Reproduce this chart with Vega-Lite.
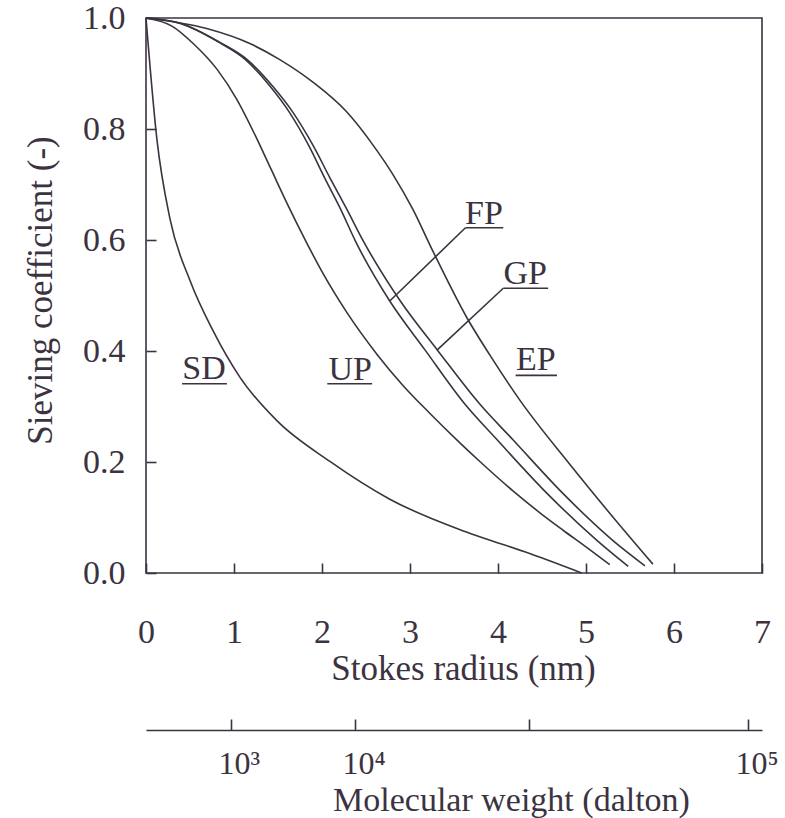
{
  "$schema": "https://vega.github.io/schema/vega-lite/v6.json",
  "width": 616,
  "height": 555,
  "autosize": {"type": "none"},
  "padding": {"left": 146, "top": 18, "right": 23, "bottom": 245},
  "background": "white",
  "config": {
    "font": "Liberation Serif",
    "view": {"stroke": "#3b3340", "strokeWidth": 1.6},
    "axis": {
      "labelFont": "Liberation Serif",
      "titleFont": "Liberation Serif",
      "labelColor": "#3b3340",
      "titleColor": "#3b3340",
      "tickColor": "#3b3340",
      "domainColor": "#3b3340",
      "grid": false,
      "titleFontWeight": "normal",
      "labelFontSize": 34,
      "titleFontSize": 35,
      "labelFlush": false,
      "labelOverlap": false
    }
  },
  "resolve": {"scale": {"x": "independent"}, "axis": {"x": "independent"}},
  "layer": [
    {
      "layer": [
        {
          "data": {"values": [
            {"curve": "SD", "r": 0, "s": 1.0},
            {"curve": "SD", "r": 0.125, "s": 0.78},
            {"curve": "SD", "r": 0.27, "s": 0.64},
            {"curve": "SD", "r": 0.5, "s": 0.527},
            {"curve": "SD", "r": 0.76, "s": 0.437},
            {"curve": "SD", "r": 1.07, "s": 0.352},
            {"curve": "SD", "r": 1.49, "s": 0.274},
            {"curve": "SD", "r": 2.09, "s": 0.201},
            {"curve": "SD", "r": 2.77, "s": 0.133},
            {"curve": "SD", "r": 3.57, "s": 0.078},
            {"curve": "SD", "r": 3.8, "s": 0.065},
            {"curve": "SD", "r": 4.36, "s": 0.035},
            {"curve": "SD", "r": 4.95, "s": 0.0},
            {"curve": "UP", "r": 0, "s": 1.0},
            {"curve": "UP", "r": 0.3, "s": 0.985},
            {"curve": "UP", "r": 0.53, "s": 0.955},
            {"curve": "UP", "r": 0.81, "s": 0.907},
            {"curve": "UP", "r": 1.03, "s": 0.854},
            {"curve": "UP", "r": 1.24, "s": 0.789},
            {"curve": "UP", "r": 1.42, "s": 0.728},
            {"curve": "UP", "r": 1.6, "s": 0.667},
            {"curve": "UP", "r": 1.8, "s": 0.603},
            {"curve": "UP", "r": 2.0, "s": 0.543},
            {"curve": "UP", "r": 2.28, "s": 0.47},
            {"curve": "UP", "r": 2.63, "s": 0.393},
            {"curve": "UP", "r": 2.92, "s": 0.338},
            {"curve": "UP", "r": 3.23, "s": 0.287},
            {"curve": "UP", "r": 3.57, "s": 0.234},
            {"curve": "UP", "r": 3.8, "s": 0.2},
            {"curve": "UP", "r": 4.17, "s": 0.148},
            {"curve": "UP", "r": 4.48, "s": 0.108},
            {"curve": "UP", "r": 4.74, "s": 0.077},
            {"curve": "UP", "r": 5.0, "s": 0.047},
            {"curve": "UP", "r": 5.27, "s": 0.015},
            {"curve": "FP", "r": 0, "s": 1.0},
            {"curve": "FP", "r": 0.39, "s": 0.99},
            {"curve": "FP", "r": 0.83, "s": 0.956},
            {"curve": "FP", "r": 1.13, "s": 0.925},
            {"curve": "FP", "r": 1.41, "s": 0.877},
            {"curve": "FP", "r": 1.63, "s": 0.83},
            {"curve": "FP", "r": 1.85, "s": 0.77},
            {"curve": "FP", "r": 2.03, "s": 0.712},
            {"curve": "FP", "r": 2.21, "s": 0.656},
            {"curve": "FP", "r": 2.38, "s": 0.598},
            {"curve": "FP", "r": 2.77, "s": 0.49},
            {"curve": "FP", "r": 3.17, "s": 0.402},
            {"curve": "FP", "r": 3.63, "s": 0.303},
            {"curve": "FP", "r": 3.99, "s": 0.24},
            {"curve": "FP", "r": 4.56, "s": 0.143},
            {"curve": "FP", "r": 5.13, "s": 0.058},
            {"curve": "FP", "r": 5.48, "s": 0.012},
            {"curve": "GP", "r": 0, "s": 1.0},
            {"curve": "GP", "r": 0.4, "s": 0.99},
            {"curve": "GP", "r": 0.84, "s": 0.956},
            {"curve": "GP", "r": 1.15, "s": 0.925},
            {"curve": "GP", "r": 1.44, "s": 0.877},
            {"curve": "GP", "r": 1.67, "s": 0.83},
            {"curve": "GP", "r": 1.9, "s": 0.77},
            {"curve": "GP", "r": 2.09, "s": 0.712},
            {"curve": "GP", "r": 2.28, "s": 0.656},
            {"curve": "GP", "r": 2.47, "s": 0.598},
            {"curve": "GP", "r": 2.89, "s": 0.49},
            {"curve": "GP", "r": 3.31, "s": 0.402},
            {"curve": "GP", "r": 3.8, "s": 0.303},
            {"curve": "GP", "r": 4.17, "s": 0.24},
            {"curve": "GP", "r": 4.74, "s": 0.143},
            {"curve": "GP", "r": 5.31, "s": 0.058},
            {"curve": "GP", "r": 5.67, "s": 0.013},
            {"curve": "EP", "r": 0, "s": 1.0},
            {"curve": "EP", "r": 0.69, "s": 0.981},
            {"curve": "EP", "r": 1.18, "s": 0.954},
            {"curve": "EP", "r": 1.52, "s": 0.925},
            {"curve": "EP", "r": 1.9, "s": 0.884},
            {"curve": "EP", "r": 2.28, "s": 0.831},
            {"curve": "EP", "r": 2.58, "s": 0.771},
            {"curve": "EP", "r": 2.81, "s": 0.717},
            {"curve": "EP", "r": 3.03, "s": 0.656},
            {"curve": "EP", "r": 3.26, "s": 0.58},
            {"curve": "EP", "r": 3.65, "s": 0.459},
            {"curve": "EP", "r": 3.91, "s": 0.392},
            {"curve": "EP", "r": 4.25, "s": 0.311},
            {"curve": "EP", "r": 4.82, "s": 0.195},
            {"curve": "EP", "r": 5.31, "s": 0.1},
            {"curve": "EP", "r": 5.76, "s": 0.016}
          ]},
          "mark": {"type": "line", "interpolate": "monotone", "color": "#3b3340", "strokeWidth": 1.6},
          "encoding": {
            "x": {
              "field": "r", "type": "quantitative",
              "scale": {"domain": [0, 7], "nice": false, "zero": false},
              "axis": {
                "title": "Stokes radius (nm)",
                "values": [0, 1, 2, 3, 4, 5, 6, 7],
                "format": "d",
                "domain": false,
                "tickSize": -10,
                "tickWidth": 1.6,
                "labelPadding": 52,
                "titleX": 317,
                "titleY": 95,
                "titleAlign": "center",
                "titleBaseline": "middle"
              }
            },
            "y": {
              "field": "s", "type": "quantitative",
              "scale": {"domain": [0, 1], "nice": false},
              "axis": {
                "title": "Sieving coefficient (-)",
                "values": [0, 0.2, 0.4, 0.6, 0.8, 1.0],
                "format": ".1f",
                "domain": false,
                "tickSize": -10,
                "tickWidth": 1.6,
                "labelPadding": 31,
                "titleX": -106,
                "titleY": 272,
                "titleAngle": -90,
                "titleAlign": "center",
                "titleBaseline": "middle"
              }
            },
            "detail": {"field": "curve", "type": "nominal"}
          }
        },
        {
          "data": {"values": [
            {"label": "SD", "r": 0.66, "s": 0.367},
            {"label": "UP", "r": 2.32, "s": 0.366},
            {"label": "FP", "r": 3.84, "s": 0.646},
            {"label": "GP", "r": 4.31, "s": 0.539},
            {"label": "EP", "r": 4.43, "s": 0.383}
          ]},
          "mark": {"type": "text", "font": "Liberation Serif", "fontSize": 34, "color": "#3b3340", "align": "center", "baseline": "middle"},
          "encoding": {
            "x": {"field": "r", "type": "quantitative"},
            "y": {"field": "s", "type": "quantitative"},
            "text": {"field": "label"}
          }
        },
        {
          "data": {"values": [
            {"label": "SD", "r1": 0.41, "r2": 0.92, "s": 0.341},
            {"label": "UP", "r1": 2.06, "r2": 2.57, "s": 0.341},
            {"label": "FP", "r1": 3.63, "r2": 4.06, "s": 0.622},
            {"label": "GP", "r1": 4.06, "r2": 4.57, "s": 0.513},
            {"label": "EP", "r1": 4.2, "r2": 4.67, "s": 0.356}
          ]},
          "mark": {"type": "rule", "color": "#3b3340", "strokeWidth": 1.6},
          "encoding": {
            "x": {"field": "r1", "type": "quantitative"},
            "x2": {"field": "r2"},
            "y": {"field": "s", "type": "quantitative"}
          }
        },
        {
          "data": {"values": [
            {"label": "FP", "r1": 2.77, "s1": 0.49, "r2": 3.63, "s2": 0.622},
            {"label": "GP", "r1": 3.31, "s1": 0.402, "r2": 4.06, "s2": 0.513}
          ]},
          "mark": {"type": "rule", "color": "#3b3340", "strokeWidth": 1.6},
          "encoding": {
            "x": {"field": "r1", "type": "quantitative"},
            "x2": {"field": "r2"},
            "y": {"field": "s1", "type": "quantitative"},
            "y2": {"field": "s2"}
          }
        }
      ]
    },
    {
      "data": {"values": [
        {"mw": "10³", "pos": 0.966},
        {"mw": "10⁴", "pos": 2.375},
        {"mw": "", "pos": 4.35},
        {"mw": "10⁵", "pos": 6.84}
      ]},
      "mark": {"type": "text", "opacity": 0},
      "encoding": {
        "x": {
          "field": "pos", "type": "quantitative",
          "scale": {"domain": [0, 7], "nice": false, "zero": false},
          "axis": {
            "orient": "bottom",
            "offset": 157,
            "title": "Molecular weight (dalton)",
            "values": [0.966, 2.375, 4.35, 6.84],
            "labelExpr": "datum.value < 1.5 ? '10³' : datum.value < 3 ? '10⁴' : datum.value > 6 ? '10⁵' : ''",
            "domain": true,
            "domainWidth": 1.6,
            "tickSize": -11,
            "tickWidth": 1.6,
            "labelPadding": 29,
            "labelFontSize": 32,
            "labelAlign": "left",
            "labelOffset": -13,
            "titleFontSize": 34,
            "titleX": 365,
            "titleY": 70,
            "titleAlign": "center",
            "titleBaseline": "middle"
          }
        },
        "text": {"field": "mw"}
      }
    }
  ]
}
